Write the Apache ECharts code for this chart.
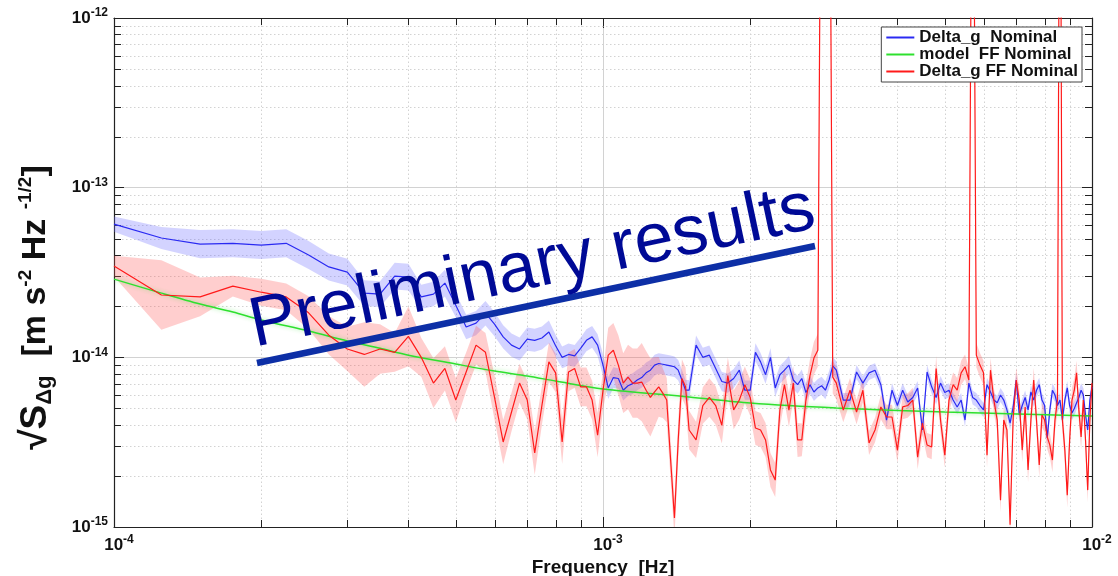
<!DOCTYPE html>
<html>
<head>
<meta charset="utf-8">
<title>Delta_g ASD</title>
<script src="https://cdn.jsdelivr.net/npm/echarts@6/dist/echarts.min.js"></script>
<style>
  html, body { margin: 0; padding: 0; background: #fff; }
  #chart { width: 1118px; height: 576px; }
</style>
</head>
<body>
<div id="chart"></div>
<script>
// frequency grid, units of 1e-4 Hz
const freq = [
  1, 1.25, 1.5, 1.75, 2, 2.25, 2.5, 2.75, 3, 3.25,
  3.5, 3.75, 4, 4.25, 4.5, 4.75, 5, 5.25, 5.5, 5.75,
  6, 6.25, 6.5, 6.75, 7, 7.25, 7.5, 7.75, 8, 8.25,
  8.5, 8.75, 9, 9.25, 9.5, 9.75, 10,
  10.25, 10.5, 10.75, 11, 11.25, 11.5, 11.75, 12, 12.25, 12.5,
  12.75, 13, 13.25, 13.5, 13.75, 14, 14.25, 14.5, 14.75, 15,
  15.5, 16, 16.5, 17, 17.5, 18, 18.5, 19, 19.5, 20,
  20.5, 21, 21.5, 22, 22.5, 23, 23.5, 24, 24.5, 25,
  25.5, 26, 26.5, 27, 27.5, 28, 28.5, 29, 29.5, 30,
  31, 32, 33, 34, 35, 36, 37, 38, 39, 40,
  41, 42, 43, 44, 45, 46, 47, 48, 49, 50,
  51, 52, 53, 54, 55, 56, 57, 58, 59, 60,
  61, 62, 63, 64, 65, 66, 67, 68, 69, 70,
  71, 72, 73, 74, 75, 76, 77, 78, 79, 80,
  81, 82, 83, 84, 85, 86, 87, 88, 89, 90,
  91, 92, 93, 94, 95, 96, 97, 98, 99, 100
]

// ASD values, units of 1e-15 m s^-2 Hz^-1/2
const deltaG = [
  61.0, 50.5, 46.5, 47.0, 45.9, 47.0, 40.1, 34.1, 31.8, 23.9,
  23.6, 30.1, 29.7, 22.7, 23.6, 27.4, 20.3, 15.1, 15.9, 18.2,
  15.7, 13.2, 11.8, 11.2, 12.8, 12.6, 13.0, 14.1, 11.7, 10.0,
  10.4, 10.2, 11.3, 12.6, 13.2, 11.8, 9.0,
  6.6, 7.6, 7.5, 6.4, 6.8, 7.0, 7.35, 7.6, 8.1, 8.4,
  9.0, 9.2, 9.1, 9.0, 8.9, 8.8, 8.4, 7.35, 6.4, 6.4,
  11.8, 10.0, 10.3, 8.6, 7.2, 7.05, 7.5, 8.4, 6.4, 6.4,
  10.7, 9.4, 7.9, 10.0, 6.6, 7.9, 8.4, 9.0, 7.35, 6.9,
  7.5, 6.2, 6.9, 6.25, 6.6, 6.8, 6.4, 7.35, 8.9, 8.4,
  5.6, 5.6, 8.2, 7.05, 8.1, 8.4, 6.9, 4.27, 6.4, 5.2,
  6.4, 5.45, 5.8, 6.6, 3.73, 8.2, 6.7, 5.8, 7.05, 6.2,
  6.4, 5.6, 5.1, 5.6, 4.27, 7.05, 5.8, 5.6, 5.2, 4.9,
  6.9, 6.25, 5.6, 5.4, 6.0, 5.6, 4.9, 4.1, 5.1, 7.35,
  4.57, 5.2, 5.8, 4.9, 6.25, 5.6, 6.4, 6.9, 5.6, 5.2,
  3.35, 4.9, 6.4, 6.0, 5.2, 5.6, 4.27, 5.6, 6.6, 5.2,
  4.7, 5.0, 5.4, 5.8, 6.4, 6.0, 4.57, 3.73, 5.6, 6.7
]
// band half-width as a factor (band = value / k ... value * k)
const deltaGErr = [
  1.11, 1.16, 1.21, 1.21, 1.21, 1.21, 1.21, 1.2, 1.2, 1.19,
  1.19, 1.2, 1.2, 1.18, 1.18, 1.2, 1.18, 1.18, 1.18, 1.18,
  1.18, 1.17, 1.17, 1.17, 1.17, 1.17, 1.17, 1.17, 1.16, 1.16,
  1.16, 1.16, 1.16, 1.16, 1.16, 1.16, 1.16,
  1.16, 1.15, 1.15, 1.15, 1.15, 1.15, 1.15, 1.15, 1.15, 1.15,
  1.15, 1.15, 1.15, 1.15, 1.15, 1.15, 1.15, 1.15, 1.15, 1.15,
  1.14, 1.14, 1.14, 1.14, 1.14, 1.14, 1.14, 1.14, 1.14, 1.14,
  1.13, 1.13, 1.13, 1.13, 1.13, 1.13, 1.13, 1.13, 1.13, 1.13,
  1.13, 1.13, 1.13, 1.13, 1.13, 1.13, 1.13, 1.13, 1.13, 1.13,
  1.1, 1.1, 1.1, 1.1, 1.1, 1.1, 1.1, 1.1, 1.1, 1.1,
  1.1, 1.1, 1.1, 1.1, 1.1, 1.1, 1.1, 1.1, 1.1, 1.1,
  1.1, 1.1, 1.1, 1.1, 1.1, 1.1, 1.1, 1.1, 1.1, 1.1,
  1.1, 1.1, 1.1, 1.1, 1.1, 1.1, 1.1, 1.1, 1.1, 1.1,
  1.1, 1.1, 1.1, 1.1, 1.1, 1.1, 1.1, 1.1, 1.1, 1.1,
  1.1, 1.1, 1.1, 1.1, 1.1, 1.1, 1.1, 1.1, 1.1, 1.1,
  1.1, 1.1, 1.1, 1.1, 1.1, 1.1, 1.1, 1.1, 1.1, 1.1
]

const deltaGFF = [
  34.5, 23.3, 22.7, 26.3, 24.2, 22.7, 18.3, 13.5, 11.2, 10.4,
  11.2, 10.7, 13.3, 10.0, 7.05, 8.6, 5.6, 8.2, 11.8, 10.7,
  5.8, 3.17, 4.76, 7.05, 5.6, 2.73, 5.2, 9.4, 8.1, 3.17,
  8.2, 8.6, 6.7, 6.7, 5.6, 3.48, 6.4,
  10.3, 11.0, 9.0, 7.05, 7.65, 7.05, 7.05, 7.15, 6.4, 5.8,
  6.25, 6.7, 6.15, 5.6, 2.48, 1.13, 3.26, 7.5, 6.7, 3.73,
  3.26, 5.2, 5.8, 5.2, 3.98, 7.8, 4.9, 5.6, 6.9, 5.8,
  3.83, 3.73, 3.26, 2.17, 1.89, 4.89, 6.9, 4.89, 7.05, 3.26,
  3.26, 5.6, 7.8, 9.9, 11.0, 1e5, 1e5, 1e5, 7.65, 7.05,
  4.89, 6.4, 4.76, 6.4, 3.13, 3.73, 5.1, 4.45, 4.45, 2.84,
  5.1, 5.2, 5.6, 2.58, 4.1, 3.04, 2.96, 8.6, 4.27, 2.65,
  5.6, 6.9, 6.4, 8.1, 8.8, 7.35, 1e5, 10.3, 9.0, 8.1,
  2.65, 8.4, 5.6, 4.27, 1.44, 4.27, 3.73, 1.03, 4.45, 7.35,
  5.6, 2.84, 5.1, 2.17, 4.27, 7.35, 4.27, 2.32, 4.57, 4.27,
  3.39, 3.04, 2.48, 4.27, 5.6, 1e5, 4.27, 2.84, 1.54, 3.26,
  5.6, 6.4, 8.1, 4.89, 3.39, 5.6, 3.26, 1.65, 4.27, 7.05
]
const deltaGFFErr = [
  1.15, 1.6, 1.3, 1.15, 1.2, 1.2, 1.25, 1.3, 1.35, 1.55,
  1.4, 1.3, 1.5, 1.3, 1.4, 1.35, 1.35, 1.3, 1.3, 1.3,
  1.35, 1.35, 1.3, 1.3, 1.3, 1.35, 1.3, 1.3, 1.3, 1.35,
  1.3, 1.3, 1.3, 1.3, 1.3, 1.35, 1.3,
  1.45, 1.45, 1.5, 1.5, 1.55, 1.6, 1.6, 1.7, 1.7, 1.7,
  1.6, 1.5, 1.4, 1.35, 1.3, 1.3, 1.3, 1.3, 1.3, 1.3,
  1.28, 1.28, 1.3, 1.3, 1.28, 1.28, 1.3, 1.3, 1.28, 1.28,
  1.26, 1.26, 1.26, 1.26, 1.26, 1.26, 1.26, 1.26, 1.26, 1.26,
  1.25, 1.25, 1.25, 1.25, 1.25, 1.25, 1.25, 1.25, 1.25, 1.25,
  1.18, 1.18, 1.18, 1.18, 1.18, 1.18, 1.18, 1.18, 1.18, 1.18,
  1.18, 1.18, 1.18, 1.18, 1.18, 1.18, 1.18, 1.18, 1.18, 1.18,
  1.18, 1.18, 1.18, 1.18, 1.18, 1.18, 1.18, 1.18, 1.18, 1.18,
  1.18, 1.18, 1.18, 1.18, 1.18, 1.18, 1.18, 1.18, 1.18, 1.18,
  1.18, 1.18, 1.18, 1.18, 1.18, 1.18, 1.18, 1.18, 1.18, 1.18,
  1.18, 1.18, 1.18, 1.18, 1.18, 1.18, 1.18, 1.18, 1.18, 1.18,
  1.18, 1.18, 1.18, 1.18, 1.18, 1.18, 1.18, 1.18, 1.18, 1.18
]

// model curve, same units
const modelFreq = [1, 1.25, 1.5, 1.75, 2, 2.5, 3, 3.5, 4, 5, 6, 7, 8, 10, 15, 20, 30, 50, 100]
const modelFF = [28.9, 23.9, 20.6, 18.5, 16.6, 14.3, 12.5, 11.3, 10.3, 9.13, 8.3, 7.76, 7.25, 6.51, 5.84, 5.38, 5.03, 4.76, 4.51]

// minor ticks (2..9 in every decade)
const xMinorTicks = [2e-4, 3e-4, 4e-4, 5e-4, 6e-4, 7e-4, 8e-4, 9e-4,
  2e-3, 3e-3, 4e-3, 5e-3, 6e-3, 7e-3, 8e-3, 9e-3]
const yMinorTicks = [2e-15, 3e-15, 4e-15, 5e-15, 6e-15, 7e-15, 8e-15, 9e-15,
  2e-14, 3e-14, 4e-14, 5e-14, 6e-14, 7e-14, 8e-14, 9e-14,
  2e-13, 3e-13, 4e-13, 5e-13, 6e-13, 7e-13, 8e-13, 9e-13]

const F_UNIT = 1e-4
const V_UNIT = 1e-15
const X_MIN = 1e-4, X_MAX = 1e-2
const Y_MIN = 1e-15, Y_MAX = 1e-12
const FONT = '"Liberation Sans", Arial, Helvetica, sans-serif'

const chart = echarts.init(document.getElementById('chart'))

function toPoints(fs, vals) {
  return fs.map((f, i) => [f * F_UNIT, vals[i] * V_UNIT])
}

// shaded uncertainty band, drawn once as one polygon
function bandSeries(name, vals, err, color) {
  const hi = freq.map((f, i) => [f * F_UNIT, vals[i] * err[i] * V_UNIT])
  const lo = freq.map((f, i) => [f * F_UNIT, vals[i] / err[i] * V_UNIT])
  return {
    name: name,
    type: 'custom',
    silent: true,
    clip: true,
    data: hi,
    renderItem(params, api) {
      if (params.dataIndex !== 0) return null
      const top = hi.map(p => api.coord(p))
      const bot = lo.map(p => api.coord(p)).reverse()
      const cs = params.coordSys
      return {
        type: 'polygon',
        shape: { points: top.concat(bot) },
        style: { fill: color },
        clipPath: { type: 'rect', shape: { x: cs.x, y: cs.y, width: cs.width, height: cs.height } },
      }
    },
  }
}

function sup(v) {
  const e = Math.round(Math.log10(v))
  return '{b|10}{s|' + e + '}'
}
const labelRich = {
  b: { fontSize: 17, fontWeight: 'bold', fontFamily: FONT, color: '#111', lineHeight: 22 },
  s: { fontSize: 12, fontWeight: 'bold', fontFamily: FONT, color: '#111', lineHeight: 12, verticalAlign: 'top' },
}
const frameLine = { show: true, lineStyle: { color: '#222', width: 1.2 } }
const majorTick = { show: true, inside: true, length: 10, lineStyle: { color: '#222', width: 1 } }
const majorGrid = { show: true, lineStyle: { color: '#d2d2d2', width: 1, type: 'solid' } }

const option = {
  animation: false,
  backgroundColor: '#fff',
  grid: { left: 114, right: 26, top: 18, bottom: 49, outerBoundsMode: 'none', containLabel: false },
  legend: {
    data: ['Delta_g  Nominal', 'model  FF Nominal', 'Delta_g FF Nominal'],
    orient: 'vertical',
    right: 36,
    top: 27,
    backgroundColor: '#fff',
    borderColor: '#444',
    borderWidth: 1,
    borderRadius: 0,
    padding: [2, 4, 2, 5],
    itemGap: 0,
    itemWidth: 28,
    itemHeight: 2,
    icon: 'rect',
    selectedMode: false,
    textStyle: { fontSize: 17, fontWeight: 'bold', color: '#111', fontFamily: FONT, lineHeight: 17 },
  },
  xAxis: [
    {
      type: 'log', logBase: 10, min: X_MIN, max: X_MAX, splitNumber: 2,
      name: 'Frequency  [Hz]', nameLocation: 'middle', nameGap: 29,
      nameTextStyle: { fontSize: 19, fontWeight: 'bold', color: '#111', fontFamily: FONT },
      axisLine: frameLine, axisTick: majorTick, splitLine: majorGrid, minorTick: { show: false },
      axisLabel: { margin: 7, padding: [0, 0, 0, 10], formatter: sup, rich: labelRich },
    },
    {
      type: 'log', logBase: 10, min: X_MIN, max: X_MAX, splitNumber: 2, position: 'top',
      axisLine: frameLine, axisTick: majorTick, splitLine: { show: false }, axisLabel: { show: false },
    },
  ],
  yAxis: [
    {
      type: 'log', logBase: 10, min: Y_MIN, max: Y_MAX, splitNumber: 3,
      name: '{r|√S}{sub|Δg}{a|  [m s}{sup|-2}{a| Hz }{sup|-1/2}{a|]}',
      nameLocation: 'middle', nameGap: 58, nameRotate: 90,
      nameTextStyle: {
        padding: [0, 70, 0, 0],
        rich: {
          r: { fontSize: 37, fontWeight: 'bold', fontFamily: FONT, color: '#111', lineHeight: 40 },
          a: { fontSize: 34, fontWeight: 'bold', fontFamily: FONT, color: '#111', lineHeight: 40 },
          sub: { fontSize: 22, fontWeight: 'bold', fontFamily: FONT, color: '#111', lineHeight: 22, verticalAlign: 'bottom' },
          sup: { fontSize: 19, fontWeight: 'bold', fontFamily: FONT, color: '#111', lineHeight: 19, verticalAlign: 'top' },
        },
      },
      axisLine: frameLine, axisTick: majorTick, splitLine: majorGrid,
      axisLabel: { margin: 6, formatter: sup, rich: labelRich },
    },
    {
      type: 'log', logBase: 10, min: Y_MIN, max: Y_MAX, splitNumber: 3, position: 'right',
      axisLine: frameLine, axisTick: majorTick, splitLine: { show: false }, axisLabel: { show: false },
    },
  ],
  graphic: [
    {
      type: 'line', z: 100,
      shape: { x1: 257, y1: 363, x2: 815, y2: 246 },
      style: { stroke: '#0d2fa6', lineWidth: 6.5 },
    },
    {
      type: 'text', z: 100, x: 258, y: 362, rotation: 0.209,
      style: {
        text: 'Preliminary results',
        fontSize: 70, fontFamily: FONT, fill: '#000a96',
        align: 'left', verticalAlign: 'bottom',
      },
    },
  ],
  series: [
    {
      name: 'xMinor', type: 'custom', silent: true, z: 1,
      data: xMinorTicks.map(f => [f, Y_MIN]),
      renderItem(params, api) {
        const cs = params.coordSys
        const x = Math.round(api.coord([api.value(0), Y_MIN])[0]) + 0.5
        const yb = cs.y + cs.height, yt = cs.y
        return {
          type: 'group',
          children: [
            { type: 'line', shape: { x1: x, y1: yb, x2: x, y2: yt }, style: { stroke: '#d2d2d2', lineWidth: 1, lineDash: [1.5, 2.5] } },
            { type: 'line', shape: { x1: x, y1: yb, x2: x, y2: yb - 7 }, style: { stroke: '#222', lineWidth: 1 } },
            { type: 'line', shape: { x1: x, y1: yt, x2: x, y2: yt + 7 }, style: { stroke: '#222', lineWidth: 1 } },
          ],
        }
      },
    },
    {
      name: 'yMinor', type: 'custom', silent: true, z: 1,
      data: yMinorTicks.map(v => [X_MIN, v]),
      renderItem(params, api) {
        const cs = params.coordSys
        const y = Math.round(api.coord([X_MIN, api.value(1)])[1]) + 0.5
        const xl = cs.x, xr = cs.x + cs.width
        return {
          type: 'group',
          children: [
            { type: 'line', shape: { x1: xl, y1: y, x2: xr, y2: y }, style: { stroke: '#d2d2d2', lineWidth: 1, lineDash: [1.5, 2.5] } },
            { type: 'line', shape: { x1: xl, y1: y, x2: xl + 7, y2: y }, style: { stroke: '#222', lineWidth: 1 } },
            { type: 'line', shape: { x1: xr, y1: y, x2: xr - 7, y2: y }, style: { stroke: '#222', lineWidth: 1 } },
          ],
        }
      },
    },
    bandSeries('band Delta_g', deltaG, deltaGErr, 'rgba(110,110,255,0.3)'),
    bandSeries('band Delta_g FF', deltaGFF, deltaGFFErr, 'rgba(255,80,80,0.28)'),
    {
      name: 'Delta_g  Nominal', type: 'line', color: '#2a2af2',
      showSymbol: false, symbol: 'none',
      lineStyle: { width: 1.2 },
      data: toPoints(freq, deltaG),
    },
    {
      name: 'model  FF Nominal', type: 'line', color: '#2ee02e',
      showSymbol: false, symbol: 'none', smooth: 0.3,
      lineStyle: { width: 1.5, shadowColor: 'rgba(40,220,40,0.45)', shadowBlur: 4 },
      data: toPoints(modelFreq, modelFF),
    },
    {
      name: 'Delta_g FF Nominal', type: 'line', color: '#ff1a1a',
      showSymbol: false, symbol: 'none',
      lineStyle: { width: 1.2 },
      data: toPoints(freq, deltaGFF),
    },
  ],
}

chart.setOption(option)
</script>
</body>
</html>
